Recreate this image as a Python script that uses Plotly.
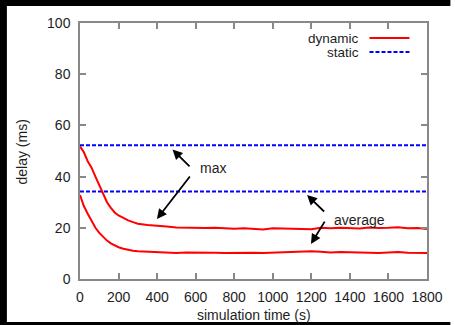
import plotly.graph_objects as go

# ---- data ----
time_s = [0, 20, 40, 60, 80, 100, 120, 140, 160, 180, 200, 225, 250, 275, 300,
          350, 400, 450, 500, 550, 600, 650, 700, 750, 800, 850, 900, 950, 1000,
          1050, 1100, 1150, 1200, 1250, 1300, 1350, 1400, 1450, 1500, 1550, 1600,
          1650, 1700, 1750, 1800]
dynamic_max = [51.8, 49.5, 46.0, 43.5, 40.0, 36.5, 33.5, 30.0, 27.8, 26.0, 24.8,
               23.8, 22.9, 22.2, 21.6, 21.1, 20.9, 20.5, 20.1, 20.0, 20.1, 19.9,
               20.0, 19.8, 19.6, 19.8, 19.5, 19.3, 19.8, 19.7, 19.6, 19.3, 19.4,
               20.0, 19.8, 20.0, 19.9, 19.7, 20.1, 19.9, 20.0, 20.2, 19.8, 19.9, 19.5]
dynamic_avg = [32.8, 28.5, 25.5, 22.5, 20.0, 18.0, 16.3, 15.0, 13.9, 13.0, 12.4,
               11.8, 11.3, 11.0, 10.8, 10.7, 10.6, 10.4, 10.2, 10.4, 10.4, 10.5,
               10.3, 10.2, 10.3, 10.2, 10.3, 10.2, 10.3, 10.3, 10.4, 10.5, 10.8,
               10.6, 10.4, 10.5, 10.4, 10.5, 10.3, 10.2, 10.4, 10.5, 10.3, 10.2, 10.2]
static_max = 52.2
static_avg = 34.2
x_range = [0, 1800]
x_ticks = [0, 200, 400, 600, 800, 1000, 1200, 1400, 1600, 1800]
y_ticks = [0, 20, 40, 60, 80, 100]

FONT = "Liberation Sans, Arial, sans-serif"
TXT = "#1e1e1e"
RED = "#ff0000"
BLUE = "#0000ff"

fig = go.Figure()
fig.add_trace(go.Scatter(x=x_range, y=[static_max, static_max], mode="lines",
                         line=dict(color=BLUE, width=2, dash="4px,2px"), name="static"))
fig.add_trace(go.Scatter(x=x_range, y=[static_avg, static_avg], mode="lines",
                         line=dict(color=BLUE, width=2, dash="4px,2px"), name="static"))
fig.add_trace(go.Scatter(x=time_s, y=dynamic_max, mode="lines",
                         line=dict(color=RED, width=2), name="dynamic"))
fig.add_trace(go.Scatter(x=time_s, y=dynamic_avg, mode="lines",
                         line=dict(color=RED, width=2), name="dynamic"))

W, H = 455, 325
L, R, T, B = 80, 19, 23, 46
pw, ph = W - L - R, H - T - B

def px_x(p):
    return (p - L) / pw

def px_y(p):
    return (H - B - p) / ph

def black_rect(x0, x1, y0, y1):
    return dict(type="rect", xref="paper", yref="paper", layer="above",
                x0=px_x(x0), x1=px_x(x1), y0=px_y(y1), y1=px_y(y0),
                fillcolor="black", line=dict(width=0))

shapes = [
    black_rect(-5, W + 5, -5, 6),      # top border
    black_rect(-5, 5, -5, H + 5),      # left border
    black_rect(-5, W + 5, 322, H + 5), # bottom border
    dict(type="line", xref="paper", yref="paper", x0=px_x(377), x1=px_x(418),
         y0=px_y(38), y1=px_y(38), line=dict(color=RED, width=2)),
    dict(type="line", xref="paper", yref="paper", x0=px_x(377), x1=px_x(418),
         y0=px_y(52), y1=px_y(52), line=dict(color=BLUE, width=2, dash="4px,2px")),
]

annotations = [
    dict(text="dynamic", xref="paper", yref="paper", x=px_x(368), y=px_y(38),
         xanchor="right", yanchor="middle", showarrow=False, font=dict(size=13.5)),
    dict(text="static", xref="paper", yref="paper", x=px_x(368), y=px_y(52),
         xanchor="right", yanchor="middle", showarrow=False, font=dict(size=13.5)),
    dict(text="delay (ms)", xref="paper", yref="paper", x=px_x(20), y=px_y(152),
         textangle=-90, xanchor="center", yanchor="middle", showarrow=False),
    dict(text="simulation time (s)", xref="paper", yref="paper", x=px_x(258), y=px_y(315),
         xanchor="center", yanchor="middle", showarrow=False),
    dict(text="max", x=690, y=43.2, showarrow=False, xanchor="center", yanchor="middle"),
    dict(text="average", x=1451, y=23.0, showarrow=False, xanchor="center", yanchor="middle"),
]
arrows = [((576, 43.4), (480, 50.6)), ((576, 40.6), (399, 23.4)),
          ((1274, 25.8), (1178, 32.8)), ((1274, 23.0), (1198, 13.7))]
for (tx, ty), (hx, hy) in arrows:
    annotations.append(dict(text="", x=hx, y=hy, ax=tx, ay=ty, axref="x", ayref="y",
                            showarrow=True, arrowhead=2, arrowsize=1.1, arrowwidth=1.8,
                            arrowcolor="black"))

axis_common = dict(showline=True, linecolor="#888888", linewidth=1.5, mirror="ticks",
                   ticks="inside", ticklen=6, tickcolor="#888888", tickwidth=1.5,
                   showgrid=False, zeroline=False,
                   tickfont=dict(family=FONT, size=14, color=TXT))

fig.update_layout(
    width=W, height=H,
    margin=dict(l=L, r=R, t=T, b=B, pad=0),
    paper_bgcolor="white", plot_bgcolor="white",
    showlegend=False,
    font=dict(family=FONT, size=14, color=TXT),
    shapes=shapes, annotations=annotations,
    xaxis=dict(range=x_range, tickvals=x_ticks, ticklabelstandoff=4, **axis_common),
    yaxis=dict(range=[0, 100], tickvals=y_ticks, ticklabelstandoff=5, **axis_common),
)

fig.write_html(
    "out.html", config={"displayModeBar": False},
    post_script=("document.body.style.margin='0';"
                 "document.body.style.overflow='hidden';"
                 "document.documentElement.style.overflow='hidden';"))
